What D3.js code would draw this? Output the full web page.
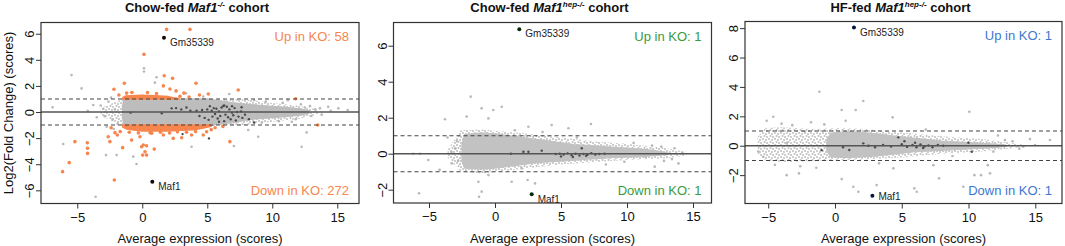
<!DOCTYPE html>
<html>
<head>
<meta charset="utf-8">
<script src="https://cdn.jsdelivr.net/npm/d3@7"></script>
<style>
  body { margin: 0; background: #fff; }
  svg { display: block; }
</style>
</head>
<body>
<svg id="chart" width="1065" height="246"></svg>
<script>
// ---- data ----
var xTicks = [-5, 0, 5, 10, 15];

// panel 1: Chow-fed Maf1-/-
var p1YTicks = [-6, -4, -2, 0, 2, 4, 6];
var p1HaloX  = [-3.2, -2, -1.5, 5, 8, 10, 12, 13.6];
var p1HaloHi = [0.3, 0.8, 1, 1, 0.95, 0.7, 0.5, 0.15];
var p1HaloLo = [-0.3, -0.8, -1, -1, -1, -0.75, -0.55, -0.15];
var p1CoreX  = [-1.5, -1.4, 0, 5, 6, 7, 8, 9, 10, 11, 12, 12.8];
var p1CoreHi = [0.5, 1, 1, 1, 0.85, 0.7, 0.6, 0.5, 0.42, 0.35, 0.25, 0.1];
var p1CoreLo = [-0.5, -1, -1, -1, -0.9, -0.8, -0.6, -0.5, -0.42, -0.35, -0.25, -0.1];
var p1UpBandX  = [-1.5, -1.3, 0, 1, 2, 2.4, 2.8];
var p1UpBandHi = [1.1, 1.22, 1.28, 1.25, 1.18, 1.1, 1.04];
var p1UpBandLo = [1, 1, 1, 1, 1, 1, 1];
var p1DnBandX  = [-1.5, -1.2, -0.5, 0, 1, 2, 3, 4, 4.6, 5.3];
var p1DnBandHi = [-1, -1, -1, -1, -1, -1, -1, -1, -1, -1];
var p1DnBandLo = [-1.15, -1.3, -1.4, -1.45, -1.45, -1.45, -1.4, -1.35, -1.25, -1.1];
var p1GrayX = [-6.9, -6.08, -5.44, -4.67, -3.77, -3.59, -2.79, -2.74, -1.97, -0.69, -0.44, 0.13, 0.13, 0.97, 1.1, 3.36, 3.79, 4.69, 5.46, 6.69, 7.05, 8.15, 8.92, 12.26, 12.64, 13.67, 14.3, 15.08, 15.8,
               -3.2, -2.9, -2.6, -2.3, -2.1, -1.9, -2.4, -3.5, -4.2, -3.0, -2.2, 12.5, 13.0, 13.3, 11.8, 12.2, 10.8, 9.5, 10.5, 9.2, 8.6, 13.8, 14.5, 11.2, 11.5, 12.9];
var p1GrayY = [0.36, -2.45, 2.83, 1.81, 0.54, -6.49, -3.3, -1.12, -3.3, -3.42, -3.98, 3.35, 3.1, 2.25, 2.66, 1.43, -2.66, 1.18, -1.0, 1.38, -2.6, -1.38, -1.89, -2.66, -1.56, 0.28, 0.4, 0.28, 0.15,
               0.5, -0.3, 0.8, -0.6, 0.2, -0.9, 1.1, -0.4, 0.1, 0.25, -1.3, 0.35, -0.3, 0.2, -0.55, 0.6, 0.7, 0.8, -0.7, -0.8, 0.9, -0.2, 0.1, 0.9, -0.75, 0.45];
var p1OrangeX = [1.87, 3.67, 0.13, 1.69, 2.33, -1.38, 1.62, 4.13, -2.18, 2.13, 2.6, 7.38, 5.08, 11.8, 13.5, 3.2, 4.4, -0.8, -1.8, -1.2, 0.4, 1.1, 2.9, 3.6,
                 -6.13, -5.62, -5.18, -4.23, -4.21, -4.21, -2.62, -2.49, -2.1, -2.15, -1.51, -1.92, -0.82, -0.18, -0.05, 0.08, 0.33, 0.03, 0.33, 0.21, 0.92, 0.72, 1.62, 2.38, 3.03, 3.79, 6.74, 4.69, 4.95, 5.6, 6.2, -1.7,
                 -1.0, -0.3, 0.6, 1.4, 2.1, 2.7, 3.4, 4.1, 5.3, -2.4];
var p1OrangeY = [6.33, 6.33, 4.42, 2.78, 2.58, 2.2, 2.0, 2.2, 1.74, 1.76, 1.62, 1.69, 1.38, 1.02, -1.0, 1.45, 1.3, 1.5, 1.3, 1.45, 1.5, 1.42, 1.2, 1.15,
                 -4.57, -3.88, -2.27, -2.35, -2.78, -3.17, -1.89, -2.27, -1.58, -5.21, -2.73, -1.76, -2.15, -1.89, -2.66, -2.53, -2.58, -3.3, -3.3, -3.04, -2.84, -1.63, -1.76, -2.02, -1.97, -1.76, -2.27, -1.76, -1.51, -1.2, -1.1, -1.5,
                 -1.55, -1.6, -1.58, -1.55, -1.6, -1.52, -1.55, -1.5, -1.35, -1.2];
var p1DarkX = [2.26, 2.6, 3.0, 3.4, 3.7, 4.18, 4.4, 4.6, 4.8, 5.0, 5.1, 5.34, 5.4, 5.5, 5.6, 5.7, 5.8, 5.9, 6.0, 6.1, 6.23, 6.3, 6.4, 6.5, 6.6, 6.7, 6.8, 6.9, 7.0, 7.1, 7.2, 7.3, 7.4, 7.64, 7.7, 7.9, 8.2, 8.6, 5.2, 5.9, 6.3, 6.9, 7.6, -0.9, 1.5, 3.1, 5.13];
var p1DarkY = [0.28, 0.3, 0.2, 0.35, 0.1, 0.1, -0.3, 0.15, -0.45, 0.2, -0.6, 0.1, -0.35, 0.3, -0.15, 0.25, -0.5, 0.05, -0.3, 0.35, 0.46, -0.7, -0.2, 0.4, -0.4, 0.2, -0.55, -0.05, -0.25, 0.3, -0.65, 0.0, -0.35, 0.36, -0.45, -0.2, -0.55, -0.8, 0.45, -0.75, 0.5, 0.45, 0.05, -0.05, -0.1, -1.69, -2.02];
var p1Genes = ["Gm35339", "Maf1"];
var p1GeneX = [1.67, 0.77];
var p1GeneY = [5.70, -5.34];
var p1Counts = [58, 272];

// panel 2: Chow-fed Maf1hep-/-
var p2YTicks = [-2, 0, 2, 4, 6];
var p2HaloX  = [-3.6, -2.6, -1, 2, 5, 8, 10, 13, 14.5];
var p2HaloHi = [0.2, 1.3, 1.35, 1.15, 0.9, 0.65, 0.55, 0.3, 0.1];
var p2HaloLo = [-0.2, -1.0, -1.1, -0.85, -0.6, -0.45, -0.35, -0.25, -0.1];
var p2CoreX  = [-2.5, -2.3, -1, 0, 1, 2, 3, 4, 5, 6, 7, 8, 9, 10, 11, 12, 13];
var p2CoreHi = [0.5, 1.05, 1.15, 1.1, 1.0, 0.9, 0.8, 0.7, 0.6, 0.5, 0.45, 0.4, 0.35, 0.3, 0.25, 0.18, 0.05];
var p2CoreLo = [-0.4, -0.8, -0.85, -0.8, -0.7, -0.6, -0.5, -0.45, -0.4, -0.35, -0.3, -0.25, -0.2, -0.18, -0.15, -0.1, -0.05];
var p2GrayX = [-1.84, -1.01, -0.13, 0.51, -2.15, -3.79, -0.5, 7.27, 4.29, 5.56, 2.53, -6.19, -5.68, -5.05, -3.28, -5.76, -1.26, -1.01, -1.21, 1.26, 2.47, 3.03, 13.9, 13.6, 13.1, 12.6, -0.5, 2.02, 12.1, 11.4,
               -3.0, -2.8, -3.3, -2.9, 14.2, 13.4, 12.8, 11.9, 10.5, 9.8, -4.2, -3.6, 1.5, 3.6, 6.2, 8.4];
var p2GrayY = [3.17, 2.52, 2.43, 2.61, 2.06, 1.91, 1.96, 1.65, 1.59, 1.41, 1.5, 0, 0, -0.35, -0.54, -2.2, -1.56, -2.11, -2.39, -1.56, -1.46, -1.65, -0.54, 0.3, 0, 0.39, -1.19, -0.81, -0.72, -0.17,
               0.3, -0.4, 0.1, 0.7, 0.05, -0.3, -0.4, 0.45, 0.6, -0.45, -0.9, 0.9, 1.3, 1.2, 0.9, -0.6];
var p2DarkX = [2.15, 2.53, 3.54, 6.57, 4.6, 4.9, 5.2, 5.5, 5.8, 6.1, 6.4, 6.7, 7.0, 7.3, 7.6, 7.9, 8.3, 5.0, 5.9, 6.9, 1.2];
var p2DarkY = [0.11, 0.11, 0.17, 0.3, -0.02, 0.0, -0.05, 0.02, -0.08, 0.0, -0.1, -0.02, -0.06, 0.03, -0.05, -0.02, 0.0, -0.15, -0.18, -0.12, 0.0];
var p2Genes = ["Gm35339", "Maf1"];
var p2GeneX = [1.84, 2.78];
var p2GeneY = [6.91, -2.26];
var p2Counts = [1, 1];

// panel 3: HF-fed Maf1hep-/-
var p3YTicks = [-2, 0, 2, 4, 6, 8];
var p3HaloX  = [-5.8, -5.2, -4, -3, -2, -1, 0, 2, 5, 8, 11, 14];
var p3HaloHi = [0.6, 1.2, 1.25, 1.2, 1.15, 1.15, 1.2, 1.15, 0.9, 0.65, 0.45, 0.1];
var p3HaloLo = [-0.5, -1.0, -1.1, -1.1, -1.05, -1.0, -1.0, -0.95, -0.8, -0.55, -0.4, -0.1];
var p3CoreX  = [-0.6, -0.3, 1, 2, 3, 4, 5, 6, 7, 8, 9, 10, 11, 12, 12.8];
var p3CoreHi = [0.4, 0.85, 0.95, 0.9, 0.8, 0.7, 0.6, 0.5, 0.4, 0.3, 0.25, 0.2, 0.15, 0.1, 0.03];
var p3CoreLo = [-0.35, -0.75, -0.8, -0.75, -0.7, -0.6, -0.5, -0.4, -0.35, -0.3, -0.25, -0.2, -0.15, -0.1, -0.03];
var p3GrayX = [-1.17, 2.12, 4.32, 0.5, 1.55, 10.06, -4.62, -5.12, -2.25, -3.62, -2.7, 0.5, 1.37, 1.75, 3.12, 5.94, 6.12, 7.79, 9.61, 10.44, 10.94, 11.61, 11.44, 11.86, 12.73, 16.1, 14.98, 14.1, -5.74, -5.37, 4.37, 7.37,
               -4.0, -3.2, -2.6, -1.8, -0.8, 0.8, -4.5, -3.6, -1.4, 13.3, 13.8, 12.2, 14.6, 6.8, 8.8, 3.3];
var p3GrayY = [3.67, 3.04, 1.93, 2.43, 2.43, 2.31, 1.97, 1.7, 0.95, -2.0, -1.88, -2.27, -2.79, -3.13, -2.68, -2.9, -3.13, -2.22, -2.79, -2.0, -2.0, -1.88, -1.32, -0.4, 0.39, 0.39, 0.05, -0.07, -0.4, -0.75, -1.54, -1.32,
               1.5, 1.4, -1.4, 1.6, 1.45, 1.7, -1.3, 0.2, -1.5, 0.3, -0.2, 0.7, 0.45, 1.1, -0.7, -1.2];
var p3DarkX = [1.07, 2.12, 4.74, 9.99, 10.24, 2.5, 3.0, 3.6, 4.2, 5.0, 5.4, 5.8, 6.1, 6.4, 6.7, 7.0, 7.3, 7.7, 8.1, -1.0, 0.6, 5.2, 6.0, 6.6];
var p3DarkY = [-0.29, 0.16, 0.57, 0.2, -0.41, 0.0, -0.1, 0.05, -0.05, 0.1, -0.08, 0.05, -0.1, 0.08, -0.05, 0.02, -0.1, 0.05, 0.0, -0.3, -0.1, 0.3, 0.2, -0.15];
var p3Genes = ["Gm35339", "Maf1"];
var p3GeneX = [1.42, 2.8];
var p3GeneY = [8.05, -3.4];
var p3Counts = [1, 1];

var FONT = "'Liberation Sans', Arial, Helvetica, sans-serif";
var svg = d3.select("#chart");

// speckle texture for the thinner edges of the point clouds
var speck = svg.append("defs").append("pattern")
    .attr("id", "speck")
    .attr("width", 6).attr("height", 6)
    .attr("patternUnits", "userSpaceOnUse");
[[1, 1], [4, 2], [2.5, 4], [5, 5]].forEach(function (c) {
    speck.append("circle").attr("cx", c[0]).attr("cy", c[1]).attr("r", 1).attr("fill", "#bdbdbd");
});

function band(xs, hi, lo) {
    return d3.zip(xs, hi, lo).map(function (d) { return {x: d[0], hi: d[1], lo: d[2]}; });
}
function pts(xs, ys) {
    return d3.zip(xs, ys).map(function (d) { return {x: d[0], y: d[1]}; });
}

function drawPanel(p) {
    var x = d3.scaleLinear().domain(p.xDom).range([p.left, p.right]);
    var y = d3.scaleLinear().domain(p.yDom).range([p.bottom, p.top]);
    var g = svg.append("g");

    var clipId = "clip" + p.id;
    g.append("clipPath").attr("id", clipId).append("rect")
        .attr("x", p.left).attr("y", p.top)
        .attr("width", p.right - p.left).attr("height", p.bottom - p.top);
    var plot = g.append("g").attr("clip-path", "url(#" + clipId + ")");

    var area = d3.area()
        .x(function (d) { return x(d.x); })
        .y0(function (d) { return y(d.lo); })
        .y1(function (d) { return y(d.hi); });

    // clouds too dense to tell apart, drawn as envelopes
    p.areas.forEach(function (a) {
        var path = plot.append("path").attr("d", area(a.data));
        if (a.speck) {
            path.attr("fill", "url(#speck)");
        } else {
            path.attr("fill", a.color).attr("stroke", a.color).attr("stroke-width", 1.5)
                .attr("stroke-linejoin", "round");
        }
    });

    p.dots.forEach(function (s) {
        plot.selectAll(null)
            .data(s.data)
            .enter()
            .append("circle")
            .attr("cx", function (d) { return x(d.x); })
            .attr("cy", function (d) { return y(d.y); })
            .attr("r", s.r)
            .attr("fill", s.color);
    });

    // reference lines
    plot.append("line")
        .attr("x1", p.left).attr("x2", p.right)
        .attr("y1", y(0)).attr("y2", y(0))
        .attr("stroke", "#555").attr("stroke-width", 1.5);
    [1, -1].forEach(function (v) {
        plot.append("line")
            .attr("x1", p.left).attr("x2", p.right)
            .attr("y1", y(v)).attr("y2", y(v))
            .attr("stroke", "#444").attr("stroke-width", 1.1)
            .attr("stroke-dasharray", "4,3");
    });

    // highlighted genes
    var genes = d3.zip(p.genes, p.geneX, p.geneY, p.labelDy);
    plot.selectAll(null)
        .data(genes)
        .enter()
        .append("circle")
        .attr("cx", function (d) { return x(d[1]); })
        .attr("cy", function (d) { return y(d[2]); })
        .attr("r", 2)
        .attr("fill", p.geneColor);
    g.selectAll(null)
        .data(genes)
        .enter()
        .append("text")
        .attr("x", function (d) { return x(d[1]) + 6; })
        .attr("y", function (d) { return y(d[2]) + d[3]; })
        .attr("font-family", FONT)
        .attr("font-size", 10)
        .attr("fill", "#222")
        .text(function (d) { return d[0]; });

    // counts
    g.append("text")
        .attr("x", p.right - 10).attr("y", p.top + 18)
        .attr("text-anchor", "end")
        .attr("font-family", FONT).attr("font-size", 13)
        .attr("fill", p.color)
        .text("Up in KO: " + p.counts[0]);
    g.append("text")
        .attr("x", p.right - 10).attr("y", p.bottom - 8.5)
        .attr("text-anchor", "end")
        .attr("font-family", FONT).attr("font-size", 13)
        .attr("fill", p.color)
        .text("Down in KO: " + p.counts[1]);

    // frame
    g.append("rect")
        .attr("x", p.left).attr("y", p.top)
        .attr("width", p.right - p.left).attr("height", p.bottom - p.top)
        .attr("fill", "none").attr("stroke", "#333").attr("stroke-width", 1.2);

    // axes
    var xAxis = g.append("g")
        .attr("transform", "translate(0," + p.bottom + ")")
        .call(d3.axisBottom(x).tickValues(xTicks).tickSize(5).tickPadding(4).tickFormat(d3.format("d")));
    xAxis.select(".domain").remove();
    xAxis.selectAll("line").attr("stroke", "#333");
    xAxis.selectAll("text").attr("font-family", FONT).attr("font-size", 13).attr("fill", "#111");

    var yAxis = g.append("g")
        .attr("transform", "translate(" + p.left + ",0)")
        .call(d3.axisLeft(y).tickValues(p.yTicks).tickSize(5).tickFormat(d3.format("d")));
    yAxis.select(".domain").remove();
    yAxis.selectAll("line").attr("stroke", "#333");
    yAxis.selectAll("text")
        .attr("font-family", FONT).attr("font-size", 13).attr("fill", "#111")
        .attr("text-anchor", "middle")
        .attr("x", null).attr("dy", null)
        .attr("transform", "translate(-7,0) rotate(-90)");

    g.append("text")
        .attr("x", (p.left + p.right) / 2).attr("y", 243)
        .attr("text-anchor", "middle")
        .attr("font-family", FONT).attr("font-size", 13).attr("fill", "#111")
        .text("Average expression (scores)");

    // title with italic gene name and superscript genotype
    var t = g.append("text")
        .attr("x", (p.left + p.right) / 2 - 3).attr("y", 12)
        .attr("text-anchor", "middle")
        .attr("font-family", FONT).attr("font-size", 13)
        .attr("font-weight", "bold").attr("fill", "#111");
    t.append("tspan").text(p.title[0] + " ");
    t.append("tspan").attr("font-style", "italic").text("Maf1");
    t.append("tspan").attr("font-size", 8).attr("font-style", "italic").attr("dy", -5).text(p.title[1]);
    t.append("tspan").attr("dy", 5).text(" cohort");
}

drawPanel({
    id: 1, left: 41, right: 359, top: 22.5, bottom: 203.5,
    xDom: [-7.79, 16.67], yDom: [-7.01, 6.86], yTicks: p1YTicks,
    title: ["Chow-fed", "-/-"], color: "#f7864e", geneColor: "#1a0a05", counts: p1Counts,
    genes: p1Genes, geneX: p1GeneX, geneY: p1GeneY, labelDy: [8.5, 8.5],
    areas: [
        {data: band(p1HaloX, p1HaloHi, p1HaloLo), speck: true},
        {data: band(p1CoreX, p1CoreHi, p1CoreLo), color: "#bdbdbd"},
        {data: band(p1UpBandX, p1UpBandHi, p1UpBandLo), color: "#f7864e"},
        {data: band(p1DnBandX, p1DnBandHi, p1DnBandLo), color: "#f7864e"}
    ],
    dots: [
        {data: pts(p1GrayX, p1GrayY), r: 1.3, color: "#b8b8b8"},
        {data: pts(p1OrangeX, p1OrangeY), r: 1.8, color: "#f7864e"},
        {data: pts(p1DarkX, p1DarkY), r: 1.2, color: "#4a4a4a"}
    ]
});

drawPanel({
    id: 2, left: 393.5, right: 711.5, top: 22.5, bottom: 203,
    xDom: [-7.69, 16.4], yDom: [-2.74, 7.29], yTicks: p2YTicks,
    title: ["Chow-fed", "hep-/-"], color: "#3a9a3e", geneColor: "#062a08", counts: p2Counts,
    genes: p2Genes, geneX: p2GeneX, geneY: p2GeneY, labelDy: [8, 8.5],
    areas: [
        {data: band(p2HaloX, p2HaloHi, p2HaloLo), speck: true},
        {data: band(p2CoreX, p2CoreHi, p2CoreLo), color: "#c2c2c2"}
    ],
    dots: [
        {data: pts(p2GrayX, p2GrayY), r: 1.3, color: "#b8b8b8"},
        {data: pts(p2DarkX, p2DarkY), r: 1.2, color: "#4a4a4a"}
    ]
});

drawPanel({
    id: 3, left: 745, right: 1062, top: 21.5, bottom: 203.5,
    xDom: [-6.74, 17.0], yDom: [-3.93, 8.45], yTicks: p3YTicks,
    title: ["HF-fed", "hep-/-"], color: "#3d78d0", geneColor: "#06173a", counts: p3Counts,
    genes: p3Genes, geneX: p3GeneX, geneY: p3GeneY, labelDy: [8.5, 3.8],
    areas: [
        {data: band(p3HaloX, p3HaloHi, p3HaloLo), speck: true},
        {data: band(p3CoreX, p3CoreHi, p3CoreLo), color: "#c2c2c2"}
    ],
    dots: [
        {data: pts(p3GrayX, p3GrayY), r: 1.3, color: "#b8b8b8"},
        {data: pts(p3DarkX, p3DarkY), r: 1.2, color: "#4a4a4a"}
    ]
});

// shared y label on the first panel
svg.append("text")
    .attr("transform", "translate(13," + (22.5 + 203.5) / 2 + ") rotate(-90)")
    .attr("text-anchor", "middle")
    .attr("font-family", FONT).attr("font-size", 13).attr("fill", "#111")
    .text("Log2(Fold Change) (scores)");
</script>
</body>
</html>
